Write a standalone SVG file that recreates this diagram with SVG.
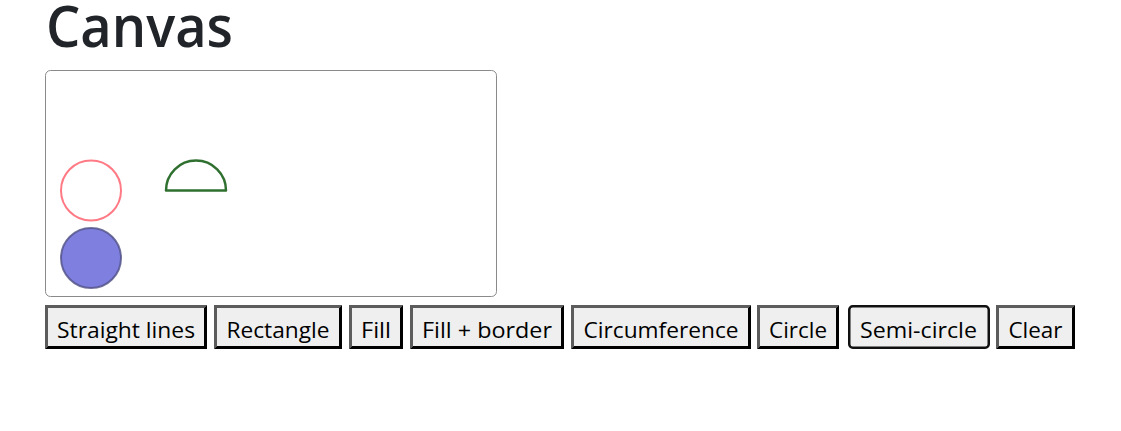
<svg xmlns="http://www.w3.org/2000/svg" width="1121" height="431" viewBox="0 0 1121 431">
<style>
.title{font-family:"Open Sans","Noto Sans",sans-serif;font-weight:600;font-size:58px;fill:#212529}
.btn-bg{fill:#efefef}
.tl{fill:#5c5c5c}
.br{fill:#000}
.lbl{font-family:"Open Sans","Noto Sans",sans-serif;font-size:22px;fill:#000;text-anchor:middle}
</style>
<rect width="1121" height="431" fill="#fff"/>
<g id="title"><text class="title" x="46" y="47" textLength="187" lengthAdjust="spacingAndGlyphs">Canvas</text></g>
<g id="canvas">
<rect x="45.5" y="70.5" width="451" height="226" rx="5" fill="#fff" stroke="#8a8a8a" stroke-width="1"/>
</g>
<g id="circumference-shape"><circle cx="91" cy="190.5" r="30" fill="none" stroke="#ff6b78" stroke-opacity="0.9" stroke-width="2"/></g>
<g id="circle-shape"><circle cx="91" cy="258" r="30" fill="#7f7fdf" stroke="#4f4f85" stroke-width="2" stroke-opacity="0.8"/></g>
<g id="semicircle-shape"><path d="M166,190.5 A30,30 0 0 1 226,190.5 Z" fill="none" stroke="#2f7030" stroke-width="2.5" stroke-linejoin="round"/></g>

<g id="btn-straight">
<rect class="btn-bg" x="45" y="305" width="162" height="44"/>
<polygon class="tl" points="45,305 207,305 204,308 48,308 48,346 45,349"/>
<polygon class="br" points="207,305 207,349 45,349 48,346 204,346 204,308"/>
<text class="lbl" x="126" y="337.5" textLength="138" lengthAdjust="spacingAndGlyphs">Straight lines</text>
</g>
<g id="btn-rectangle">
<rect class="btn-bg" x="214" y="305" width="128" height="44"/>
<polygon class="tl" points="214,305 342,305 339,308 217,308 217,346 214,349"/>
<polygon class="br" points="342,305 342,349 214,349 217,346 339,346 339,308"/>
<text class="lbl" x="278" y="337.5" textLength="103" lengthAdjust="spacingAndGlyphs">Rectangle</text>
</g>
<g id="btn-fill">
<rect class="btn-bg" x="349" y="305" width="54" height="44"/>
<polygon class="tl" points="349,305 403,305 400,308 352,308 352,346 349,349"/>
<polygon class="br" points="403,305 403,349 349,349 352,346 400,346 400,308"/>
<text class="lbl" x="376" y="337.5" textLength="30" lengthAdjust="spacingAndGlyphs">Fill</text>
</g>
<g id="btn-fill-border">
<rect class="btn-bg" x="410" y="305" width="154" height="44"/>
<polygon class="tl" points="410,305 564,305 561,308 413,308 413,346 410,349"/>
<polygon class="br" points="564,305 564,349 410,349 413,346 561,346 561,308"/>
<text class="lbl" x="487" y="337.5" textLength="130" lengthAdjust="spacingAndGlyphs">Fill + border</text>
</g>
<g id="btn-circumference">
<rect class="btn-bg" x="571" y="305" width="180" height="44"/>
<polygon class="tl" points="571,305 751,305 748,308 574,308 574,346 571,349"/>
<polygon class="br" points="751,305 751,349 571,349 574,346 748,346 748,308"/>
<text class="lbl" x="661" y="337.5" textLength="155" lengthAdjust="spacingAndGlyphs">Circumference</text>
</g>
<g id="btn-circle">
<rect class="btn-bg" x="757" y="305" width="82" height="44"/>
<polygon class="tl" points="757,305 839,305 836,308 760,308 760,346 757,349"/>
<polygon class="br" points="839,305 839,349 757,349 760,346 836,346 836,308"/>
<text class="lbl" x="798" y="337.5" textLength="58" lengthAdjust="spacingAndGlyphs">Circle</text>
</g>
<g id="btn-semicircle">
<rect x="849.25" y="306.25" width="139.5" height="41.5" rx="3.5" fill="#efefef" stroke="#111" stroke-width="2.5"/>
<text class="lbl" x="918.5" y="337.5" textLength="117" lengthAdjust="spacingAndGlyphs">Semi-circle</text>
</g>
<g id="btn-clear">
<rect class="btn-bg" x="996" y="305" width="79" height="44"/>
<polygon class="tl" points="996,305 1075,305 1072,308 999,308 999,346 996,349"/>
<polygon class="br" points="1075,305 1075,349 996,349 999,346 1072,346 1072,308"/>
<text class="lbl" x="1035.5" y="337.5" textLength="54" lengthAdjust="spacingAndGlyphs">Clear</text>
</g>
<g id="connectors"/>
</svg>
